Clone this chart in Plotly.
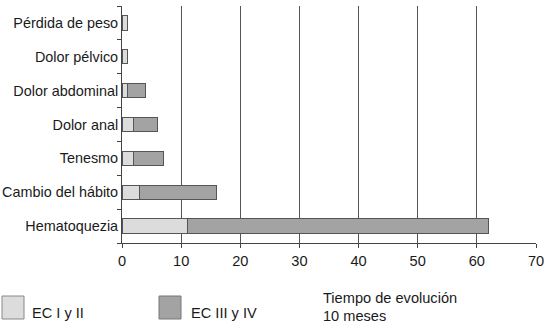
import plotly.graph_objects as go

categories = ["Hematoquezia", "Cambio del hábito", "Tenesmo", "Dolor anal",
              "Dolor abdominal", "Dolor pélvico", "Pérdida de peso"]
ec_i_ii = [11, 3, 2, 2, 1, 1, 1]
ec_iii_iv = [51, 13, 5, 4, 3, 0, 0]
x_ticks = [0, 10, 20, 30, 40, 50, 60, 70]

light = "#dcdcdc"
dark = "#a3a3a3"
edge = "#555555"
font = "Liberation Sans, Arial, sans-serif"
txt = "#1a1a1a"

fig = go.Figure()
fig.add_trace(go.Bar(y=categories, x=ec_i_ii, orientation="h", name="EC I y II",
                     marker=dict(color=light, line=dict(color=edge, width=1)), width=0.42))
fig.add_trace(go.Bar(y=categories, x=ec_iii_iv, orientation="h", name="EC III y IV",
                     marker=dict(color=dark, line=dict(color=edge, width=1)), width=0.42))

fig.update_layout(
    barmode="stack",
    width=560, height=330,
    margin=dict(l=122, r=24, t=6, b=87),
    paper_bgcolor="white", plot_bgcolor="white",
    showlegend=False,
    font=dict(family=font, size=14.4, color=txt),
    xaxis=dict(range=[0, 70], tickvals=x_ticks, showgrid=True, gridcolor="#555",
               gridwidth=1, showline=True, linecolor="#444", linewidth=1,
               ticks="outside", ticklen=4, tickcolor="#444", zeroline=False,
               automargin=False,
               tickfont=dict(size=14.6, family=font, color=txt)),
    yaxis=dict(categoryorder="array", categoryarray=categories, showline=True,
               linecolor="#444", linewidth=1, ticks="outside", ticklen=4,
               tickcolor="#444", tickson="boundaries", showgrid=False,
               automargin=False,
               tickfont=dict(size=14.4, family=font, color=txt)),
)

def py(p):
    return (243 - p) / 237

def px(p):
    return (p - 122) / 414

# custom legend below the chart
fig.add_shape(type="rect", xref="paper", yref="paper",
              x0=px(2), x1=px(24), y0=py(296), y1=py(319),
              fillcolor=light, line=dict(color="#888", width=1))
fig.add_shape(type="rect", xref="paper", yref="paper",
              x0=px(159), x1=px(181), y0=py(296), y1=py(319),
              fillcolor=dark, line=dict(color="#777", width=1))

def ann(text, x, y):
    fig.add_annotation(text=text, xref="paper", yref="paper",
                       x=px(x), y=py(y), xanchor="left", yanchor="middle",
                       showarrow=False, align="left",
                       font=dict(family=font, size=14.6, color=txt))

ann("EC I y II", 30, 313)
ann("EC III y IV", 189, 313)
ann("Tiempo de evolución", 321, 298)
ann("10 meses", 321, 316)

fig.write_html("out.html")
